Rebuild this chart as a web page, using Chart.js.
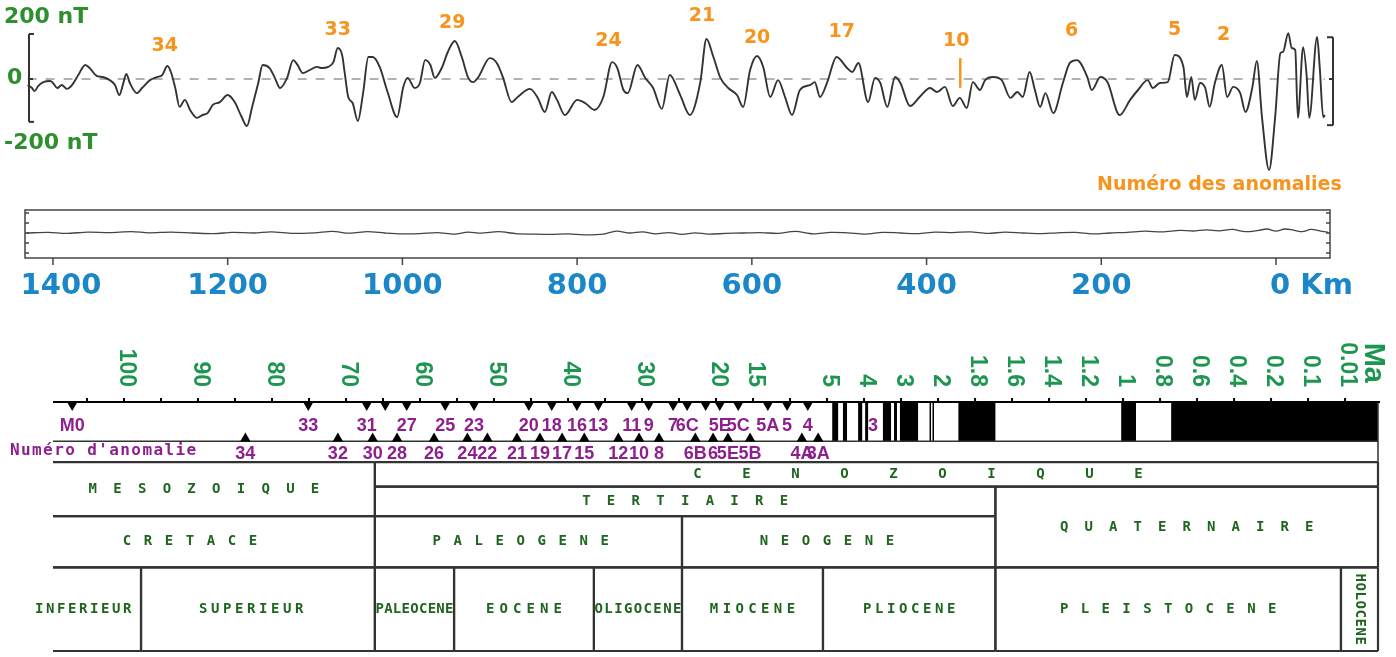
<!DOCTYPE html>
<html lang="fr">
<head>
<meta charset="utf-8">
<title>Anomalies magnétiques et échelle des temps</title>
<script src="https://cdn.jsdelivr.net/npm/chart.js@4.4.1/dist/chart.umd.min.js"></script>
<style>
  html, body { margin: 0; padding: 0; background: #fff; }
  #page { position: relative; width: 1396px; height: 657px; overflow: hidden; }
  #page canvas { position: absolute; left: 0; }
</style>
</head>
<body>
<div id="page">
  <canvas id="profil" width="1396" height="200" style="top:0"></canvas>
  <canvas id="plat" width="1396" height="110" style="top:200px"></canvas>
  <canvas id="echelle" width="1396" height="327" style="top:330px"></canvas>
</div>
<script>
// ---------- profil d'anomalies magnétiques (distance à l'axe en km, nT) ----------
const profilKm = [1429,1424,1421,1417,1411,1403,1400,1395,1390,1384,
  1378,1371,1363,1358,1350,1343,1335,1329,1324,1320,
  1316,1312,1304,1298,1289,1281,1275,1269,1265,1260,
  1255,1249,1243,1235,1229,1223,1217,1209,1200,1192,
  1184,1178,1172,1165,1160,1152,1146,1140,1132,1125,
  1120,1114,1106,1098,1092,1085,1079,1074,1069,1066,
  1062,1057,1051,1045,1039,1034,1026,1017,1006,999,
  994,986,980,974,968,963,955,948,940,932,
  925,919,913,900,892,885,875,868,854,845,
  837,829,823,814,800,791,780,770,760,754,
  747,742,731,722,713,703,694,682,671,659,
  652,644,636,627,617,610,602,594,587,579,
  570,562,554,545,533,528,522,514,503,491,
  485,478,467,459,453,445,436,430,419,408,
  396,388,379,370,362,354,347,339,333,324,
  314,304,296,290,282,276,270,264,255,244,
  236,228,216,211,201,193,179,167,158,147,
  141,133,124,116,106,102,97,93,87,81,
  76,70,62,56,49,41,35,27,22,16,
  8,1,-5,-8,-14,-18,-22,-25,-31,-35,
  -38,-47,-50,-54,-56];
const profilNt = [-27,-41,-55,-32,-14,-9,-18,-41,-27,-45,
  -27,18,64,50,14,9,-5,-27,-73,-27,
  23,-18,-64,-41,-5,9,18,59,32,-41,
  -127,-95,-141,-177,-164,-155,-118,-105,-73,-105,
  -173,-214,-127,-18,64,50,5,-41,5,86,
  64,27,41,55,50,55,77,141,109,27,
  -82,-109,-191,-64,100,100,55,-59,-173,-36,
  5,-41,-18,86,64,5,50,123,173,100,
  9,-14,9,95,73,9,-105,-82,-45,-86,
  -150,-59,-95,-164,-95,-109,-141,-82,77,50,
  -50,-64,64,5,-41,-136,18,-73,-164,-14,
  182,100,5,-41,-73,-127,41,105,55,-82,
  -5,-82,-164,-50,-27,-14,-82,-18,100,50,
  32,73,-105,5,-18,-127,9,-18,-123,-82,
  -41,-59,-36,-123,-86,-132,-14,-50,-5,9,
  -5,-86,-59,-82,32,-50,-127,-64,-155,-18,
  73,86,9,-50,9,-14,-164,-95,-50,-5,
  -41,-18,-14,109,55,-82,9,-95,-18,-41,
  -127,-18,64,-82,-36,-64,-150,-36,82,-177,
  -414,-173,118,123,209,141,132,-177,145,18,
  -177,191,55,-173,-164];

// profil du bas (amplitude faible)
const platKm = [1430,1405,1385,1360,1335,1310,1290,1265,1240,1215,1195,1170,1150,1125,1100,1080,1060,1040,1020,1000,
  980,960,940,925,910,890,870,850,830,810,790,770,755,740,725,710,695,680,665,650,
  630,610,590,570,550,530,510,490,470,450,430,410,390,370,350,330,310,290,270,250,
  230,210,190,170,150,130,110,95,80,65,50,35,20,10,0,-10,-20,-30,-40,-50,-60];
const platNt = [0,3,-2,4,2,6,1,4,0,-3,3,0,5,-2,1,7,-1,6,0,-4,
  -3,2,-5,4,-1,6,-3,-5,-6,-4,-8,-5,8,0,5,-4,2,-6,1,-5,
  -2,0,2,-2,7,-4,3,1,-5,3,0,-3,4,2,5,-2,4,0,-3,1,
  3,-4,0,3,8,5,12,9,14,10,16,6,12,18,8,18,13,6,16,10,2];

const kmGraduations = [1400, 1200, 1000, 800, 600, 400, 200, 0];

// numéros d'anomalies placés sur le profil
const anomProfilNum = ['34','33','29','24','21','20','17','10','6','5','2'];
const anomProfilKm  = [1272,1074,943,764,657,594,497,366,234,116,60];
const anomProfilNt  = [150,223,255,173,286,186,214,173,218,223,200];

// ---------- échelle des temps (Ma) ----------
const maGraduations = [105,100,95,90,85,80,75,70,65,60,55,50,45,40,35,30,25,20,15,10,5,
  4,3,2,1.8,1.6,1.4,1.2,1,0.8,0.6,0.4,0.2,0.1,0.01];
const maEtiquettes = [100,90,80,70,60,50,40,30,20,15,5,4,3,2,1.8,1.6,1.4,1.2,1,0.8,0.6,0.4,0.2,0.1,0.01];

// périodes de polarité normale (début, fin en Ma)
const normalDebut = [4.86,4.57,4.16,3.97,3.49,3.19,3.03,2.23,2.15,1.89,1.01,0.74];
const normalFin   = [4.70,4.46,4.05,3.89,3.27,3.11,2.54,2.21,2.13,1.69,0.93,0];

// anomalies repérées en haut et en bas de la bande
const anomHautNum = ['M0','33','31','','27','25','23','20','18','16','13','11','9','7','6C','','5E','5C','5A','5','4'];
const anomHautMa  = [107.0,75.1,67.2,64.7,61.8,56.6,52.7,45.3,42.2,38.8,35.9,31.4,29.1,25.8,23.9,21.4,19.5,17.0,13.0,10.4,7.6];
const anomBasNum  = ['34','32','30','28','26','24','22','21','19','17','15','12','10','8','6B','6','5E','5B','4A','3A'];
const anomBasMa   = [83.6,71.1,66.4,63.1,58.1,53.6,50.9,46.9,43.8,40.8,37.8,33.2,30.4,27.7,22.8,20.4,18.4,15.4,8.4,6.2];
const anomSeuleNum = ['3'];
const anomSeuleMa  = [3.76];

// divisions géologiques
const divNoms  = ['MESOZOIQUE','CENOZOIQUE','TERTIAIRE','QUATERNAIRE','CRETACE','PALEOGENE','NEOGENE',
  'INFERIEUR','SUPERIEUR','PALEOCENE','EOCENE','OLIGOCENE','MIOCENE','PLIOCENE','PLEISTOCENE','HOLOCENE'];
const divDebut = [110,66.1,66.1,1.69,110,66.1,24.6,110,97.7,66.1,55.4,36.5,24.6,5.55,1.69,0.02];
const divFin   = [66.1,0,1.69,0,66.1,24.6,1.69,97.7,66.1,55.4,36.5,24.6,5.55,1.69,0.02,0];
const divNiveauHaut = [0,0,1,1,2,2,2,3,3,3,3,3,3,3,3,3];
const divNiveauBas  = [2,1,2,3,3,3,3,4,4,4,4,4,4,4,4,4];

// ---------- mise en page ----------
const rangeesY = [61, 86, 116, 168, 253];        // lignes du tableau (px sous l'axe)
const divPas = [24.7,49,24.7,24.5,21,21,21,11,12,8.7,13.5,9.8,12.8,12,20.8,9];
const divCentre = [89.2,2.54,null,null,91.1,46.4,5.0,105.5,82.8,null,null,null,null,null,null,null];

const VERT = '#2d8f2d', ORANGE = '#f7941d', BLEU = '#1b86c8', VIOLET = '#8e1f8e', VERT_MA = '#1d9650', VERT_TAB = '#1f651f';

function maVersRang(ma) {
  const g = maGraduations, n = g.length - 1;
  if (ma >= g[0]) return (g[0] - ma) / (g[0] - g[1]);
  for (let i = 0; i < n; i++) {
    if (ma <= g[i] && ma >= g[i + 1]) return i + (g[i] - ma) / (g[i] - g[i + 1]);
  }
  return n + (g[n] - ma) / (g[n - 1] - g[n]);
}

function texteEspace(ctx, txt, cx, cy, pas) {
  const x0 = cx - pas * (txt.length - 1) / 2;
  for (let i = 0; i < txt.length; i++) ctx.fillText(txt[i], x0 + i * pas, cy);
}

function ligne(ctx, x1, y1, x2, y2) {
  ctx.beginPath(); ctx.moveTo(x1, y1); ctx.lineTo(x2, y2); ctx.stroke();
}

const baseOptions = {
  responsive: false,
  animation: false,
  events: [],
  plugins: { legend: { display: false }, tooltip: { enabled: false } }
};

// ---------- graphique 1 : profil ----------
const profilDeco = {
  id: 'profilDeco',
  afterDatasetsDraw(chart) {
    const { ctx, chartArea: a, scales: { x, y } } = chart;
    ctx.save();
    // crochets d'échelle
    ctx.strokeStyle = '#333'; ctx.lineWidth = 2;
    const xl = a.left + 4, xr = a.right - 2;
    ligne(ctx, xl, y.getPixelForValue(205), xl, y.getPixelForValue(-195));
    ligne(ctx, xl, y.getPixelForValue(205), xl + 5, y.getPixelForValue(205));
    ligne(ctx, xl, y.getPixelForValue(-195), xl + 5, y.getPixelForValue(-195));
    ligne(ctx, xl, y.getPixelForValue(0), xl + 4, y.getPixelForValue(0));
    ligne(ctx, xr, y.getPixelForValue(190), xr, y.getPixelForValue(-210));
    ligne(ctx, xr, y.getPixelForValue(190), xr - 6, y.getPixelForValue(190));
    ligne(ctx, xr, y.getPixelForValue(-210), xr - 6, y.getPixelForValue(-210));
    ligne(ctx, xr, y.getPixelForValue(0), xr - 4, y.getPixelForValue(0));

    // échelle verticale
    ctx.fillStyle = VERT; ctx.font = 'bold 22px "DejaVu Sans"';
    ctx.textAlign = 'left'; ctx.textBaseline = 'middle';
    ctx.fillText('200 nT', 4, y.getPixelForValue(200) - 18);
    ctx.fillText('0', 7, y.getPixelForValue(0) - 1);
    ctx.fillText('-200 nT', 4, y.getPixelForValue(-200) + 20);

    // numéros d'anomalies
    ctx.fillStyle = ORANGE; ctx.font = 'bold 19px "DejaVu Sans"'; ctx.textAlign = 'center';
    anomProfilNum.forEach((n, i) => {
      ctx.fillText(n, x.getPixelForValue(anomProfilKm[i]), y.getPixelForValue(anomProfilNt[i]));
    });
    const i10 = anomProfilNum.indexOf('10');
    ctx.strokeStyle = ORANGE; ctx.lineWidth = 2.5;
    const x10 = x.getPixelForValue(anomProfilKm[i10]) + 4;
    ligne(ctx, x10, y.getPixelForValue(95), x10, y.getPixelForValue(-40));
    ctx.textAlign = 'left';
    ctx.fillText('Numéro des anomalies', 1097, 185);
    ctx.restore();
  }
};

new Chart(document.getElementById('profil'), {
  type: 'line',
  data: {
    datasets: [
      {
        data: profilKm.map((k, i) => ({ x: k, y: profilNt[i] })),
        borderColor: '#333', borderWidth: 1.9, pointRadius: 0,
        cubicInterpolationMode: 'monotone', fill: false
      },
      {
        data: [{ x: profilKm[0], y: 0 }, { x: profilKm[profilKm.length - 1], y: 0 }],
        borderColor: '#a0a0a0', borderWidth: 1.6, borderDash: [9, 9], pointRadius: 0, fill: false
      }
    ]
  },
  options: {
    ...baseOptions,
    layout: { padding: { left: 25, right: 61, top: 10, bottom: 10 } },
    scales: {
      x: { type: 'linear', reverse: true, min: -67.5, max: 1432, display: false },
      y: { type: 'linear', min: -505, max: 314, display: false }
    }
  },
  plugins: [profilDeco]
});

// ---------- graphique 2 : profil plat et distances ----------
const platDeco = {
  id: 'platDeco',
  afterDatasetsDraw(chart) {
    const { ctx, chartArea: a, scales: { x, y } } = chart;
    ctx.save();
    ctx.strokeStyle = '#444'; ctx.lineWidth = 1.5;
    ctx.strokeRect(a.left, a.top, a.right - a.left, a.bottom - a.top);
    [-90, -45, 0, 45, 90].forEach(v => {
      const yy = y.getPixelForValue(v);
      ligne(ctx, a.left, yy, a.left + 4, yy);
      ligne(ctx, a.right, yy, a.right - 4, yy);
    });
    ctx.fillStyle = BLEU; ctx.font = 'bold 29px "DejaVu Sans"'; ctx.textBaseline = 'middle';
    kmGraduations.forEach(k => {
      const xx = x.getPixelForValue(k);
      ligne(ctx, xx, a.bottom, xx, a.bottom + 7);
      if (k === 0) {
        ctx.textAlign = 'left';
        ctx.fillText('0 Km', xx - ctx.measureText('0').width / 2 + 4, a.bottom + 28);
      } else {
        ctx.textAlign = 'center';
        ctx.fillText(String(k), xx + (k === 1400 ? 8 : 0), a.bottom + 28);
      }
    });
    ctx.restore();
  }
};

new Chart(document.getElementById('plat'), {
  type: 'line',
  data: {
    datasets: [{
      data: platKm.map((k, i) => ({ x: k, y: platNt[i] })),
      borderColor: '#444', borderWidth: 1.3, pointRadius: 0, tension: 0.3, fill: false
    }]
  },
  options: {
    ...baseOptions,
    layout: { padding: { left: 25, right: 66, top: 10, bottom: 52 } },
    scales: {
      x: { type: 'linear', reverse: true, min: -61.8, max: 1432, display: false },
      y: { type: 'linear', min: -112.5, max: 103.5, display: false }
    }
  },
  plugins: [platDeco]
});

// ---------- graphique 3 : échelle des inversions et tableau stratigraphique ----------
const echelleDeco = {
  id: 'echelleDeco',
  beforeDatasetsDraw(chart) {
    const { ctx, chartArea: a, scales: { x, y } } = chart;
    const px = ma => ma <= 0 ? a.right : Math.max(a.left, Math.min(a.right, x.getPixelForValue(maVersRang(ma))));
    const py = v => y.getPixelForValue(v);
    ctx.save();

    // bandes de polarité normale
    ctx.fillStyle = '#000';
    normalDebut.forEach((d, i) => {
      const x1 = px(d), x2 = px(normalFin[i]);
      ctx.fillRect(x1, py(0), Math.max(1.5, x2 - x1), py(40) - py(0));
    });

    // cadre de la bande et de la ligne des numéros
    ctx.strokeStyle = '#333'; ctx.lineWidth = 1.5;
    ligne(ctx, a.left, py(40), a.right, py(40));
    ligne(ctx, a.right, py(0), a.right, py(61));

    // axe des temps
    ctx.strokeStyle = '#000'; ctx.lineWidth = 2;
    ligne(ctx, a.left, py(0), a.right + 2, py(0));
    maGraduations.forEach(m => ligne(ctx, px(m), py(0) - 4, px(m), py(0)));

    // étiquettes Ma (verticales)
    ctx.fillStyle = VERT_MA; ctx.font = 'bold 23px "Liberation Sans"';
    ctx.textAlign = 'right'; ctx.textBaseline = 'middle';
    maEtiquettes.forEach(m => {
      ctx.save();
      ctx.translate(px(m) + 2, py(0) - 15);
      ctx.rotate(Math.PI / 2);
      ctx.fillText(String(m), 0, 0);
      ctx.restore();
    });
    ctx.save();
    ctx.font = 'bold 29px "Liberation Sans"';
    ctx.translate(a.right - 5, py(0) - 19);
    ctx.rotate(Math.PI / 2);
    ctx.fillText('Ma', 0, 0);
    ctx.restore();

    // tableau des divisions
    ctx.strokeStyle = '#333'; ctx.lineWidth = 2.2;
    divNoms.forEach((nom, i) => {
      const x1 = px(divDebut[i]), x2 = px(divFin[i]);
      const y1 = py(rangeesY[divNiveauHaut[i]]), y2 = py(rangeesY[divNiveauBas[i]]);
      ligne(ctx, x1, y1, x2, y1);
      ligne(ctx, x1, y2, x2, y2);
      ligne(ctx, x2, y1, x2, y2);
      if (x1 > a.left + 1) ligne(ctx, x1, y1, x1, y2);
    });
    ctx.fillStyle = VERT_TAB; ctx.font = 'bold 14px "DejaVu Sans Mono"';
    ctx.textAlign = 'center'; ctx.textBaseline = 'middle';
    divNoms.forEach((nom, i) => {
      const x1 = px(divDebut[i]), x2 = px(divFin[i]);
      const cx = divCentre[i] !== null ? px(divCentre[i]) : (x1 + x2) / 2;
      const cy = (py(rangeesY[divNiveauHaut[i]]) + py(rangeesY[divNiveauBas[i]])) / 2;
      if (nom === 'HOLOCENE') {
        ctx.save();
        ctx.translate(cx, cy);
        ctx.rotate(Math.PI / 2);
        texteEspace(ctx, nom, 0, 0, divPas[i]);
        ctx.restore();
      } else {
        texteEspace(ctx, nom, cx, cy, divPas[i]);
      }
    });
    ctx.restore();
  },
  afterDatasetsDraw(chart) {
    const { ctx, chartArea: a, scales: { x, y } } = chart;
    const px = ma => x.getPixelForValue(maVersRang(ma));
    ctx.save();
    ctx.fillStyle = VIOLET; ctx.font = 'bold 18px "Liberation Sans"';
    ctx.textAlign = 'center'; ctx.textBaseline = 'middle';
    anomHautNum.forEach((n, i) => { if (n) ctx.fillText(n, px(anomHautMa[i]), y.getPixelForValue(24)); });
    anomSeuleNum.forEach((n, i) => ctx.fillText(n, px(anomSeuleMa[i]), y.getPixelForValue(24)));
    anomBasNum.forEach((n, i) => ctx.fillText(n, px(anomBasMa[i]), y.getPixelForValue(53)));
    ctx.font = 'bold 16px "DejaVu Sans Mono"'; ctx.textAlign = 'left';
    if ('letterSpacing' in ctx) ctx.letterSpacing = '1.4px';
    ctx.fillText("Numéro d'anomalie", 10, y.getPixelForValue(50));
    ctx.restore();
  }
};

new Chart(document.getElementById('echelle'), {
  type: 'scatter',
  data: {
    datasets: [
      {
        data: anomHautMa.map(m => ({ x: maVersRang(m), y: 3 })),
        pointStyle: 'triangle', pointRotation: 180, pointRadius: 6,
        pointBackgroundColor: '#000', backgroundColor: '#000', pointBorderWidth: 0, borderWidth: 0
      },
      {
        data: anomBasMa.map(m => ({ x: maVersRang(m), y: 37 })),
        pointStyle: 'triangle', pointRotation: 0, pointRadius: 6,
        pointBackgroundColor: '#000', backgroundColor: '#000', pointBorderWidth: 0, borderWidth: 0
      }
    ]
  },
  options: {
    ...baseOptions,
    layout: { padding: { left: 53, right: 18, top: 72, bottom: 2 } },
    scales: {
      x: { type: 'linear', min: -0.919, max: 34.89, display: false },
      y: { type: 'linear', min: 0, max: 253, reverse: true, display: false }
    }
  },
  plugins: [echelleDeco]
});
</script>
</body>
</html>
